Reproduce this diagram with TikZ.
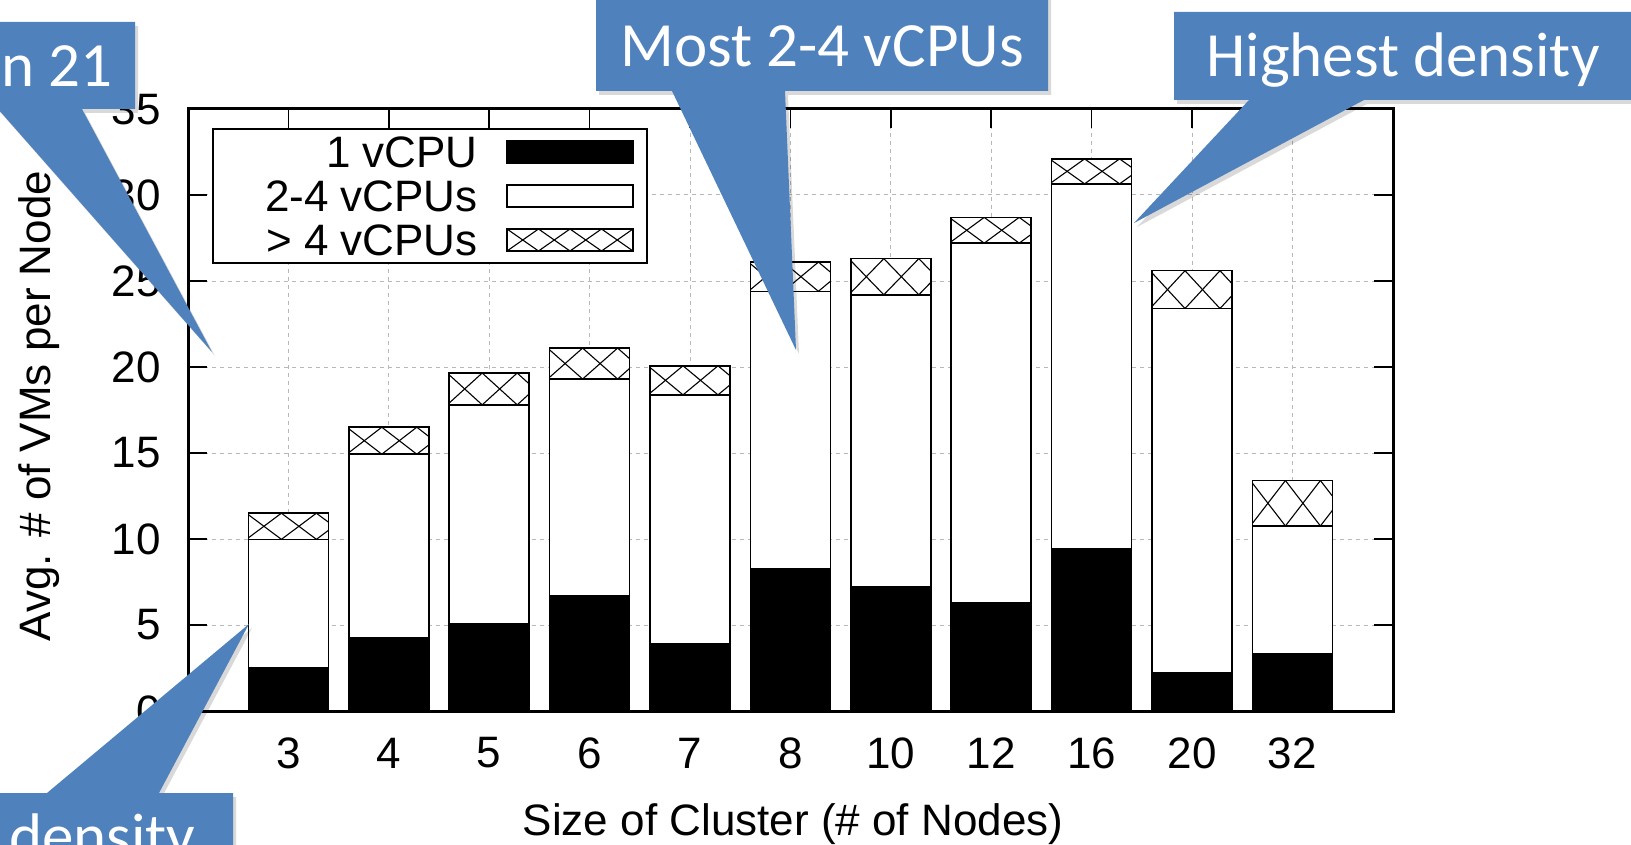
\documentclass[tikz,border=0pt]{standalone}
\usepackage{fontspec}
\setmainfont{Liberation Sans}
\newfontfamily\callfont{Carlito}
\definecolor{callblue}{RGB}{79,129,189}
\begin{document}
\begin{tikzpicture}[x=1pt,y=-1pt,
  lbl/.style={font=\fontsize{44}{50}\selectfont, inner sep=0pt},
  gridline/.style={black!28, line width=1pt, dash pattern=on 4pt off 4pt},
  barbox/.style={draw=black, line width=1.6pt},
  hatchline/.style={black, line width=1.1pt},
  tickline/.style={black, line width=1.6pt},
  calltext/.style={font=\callfont\fontsize{63}{70}\selectfont, text=white, inner sep=0pt},
  callfill/.style={fill=callblue},
  callshadow/.style={fill=black, opacity=0.15},
]
\useasboundingbox (0,0) rectangle (1631,845);
\clip (0,0) rectangle (1631,845);
\fill[white] (0,0) rectangle (1631,845);

% grid
\foreach \v in {5,10,...,30}{
  \draw[gridline] (188,{711-17.2*\v}) -- (1393,{711-17.2*\v});
}
\foreach \i in {0,...,10}{
  \draw[gridline] ({288.4+100.4*\i},109) -- ({288.4+100.4*\i},711);
}

% ticks
\foreach \v in {0,5,...,35}{
  \draw[tickline] (188,{711-17.2*\v}) -- (207,{711-17.2*\v});
  \draw[tickline] (1393,{711-17.2*\v}) -- (1374,{711-17.2*\v});
  \node[lbl, anchor=east] (yt\v) at (161,{711-17.2*\v}) {\v};
}
\foreach \i/\t in {0/3,1/4,2/5,3/6,4/7,5/8,6/10,7/12,8/16,9/20,10/32}{
  \draw[tickline] ({288.4+100.4*\i},109) -- ({288.4+100.4*\i},128);
  \node[lbl] (xt\i) at ({288.4+100.4*\i},753) {\t};
}

% bars
\foreach \i/\a/\b/\c in {0/2.54/9.98/11.5, 1/4.23/14.93/16.5, 2/5.08/17.8/19.65,
   3/6.7/19.3/21.1, 4/3.93/18.38/20.07, 5/8.28/24.4/26.1, 6/7.2/24.2/26.3,
   7/6.29/27.2/28.7, 8/9.43/30.65/32.1, 9/2.24/23.4/25.6, 10/3.33/10.76/13.4}{
  \pgfmathsetmacro\xc{288.4+100.4*\i}
  \pgfmathsetmacro\ya{711-17.2*\a}
  \pgfmathsetmacro\yb{711-17.2*\b}
  \pgfmathsetmacro\yc{711-17.2*\c}
  \pgfmathsetmacro\hh{\yb-\yc}
  \draw[barbox, fill=black] ({\xc-40},711) rectangle ({\xc+40},\ya);
  \draw[barbox, fill=white] ({\xc-40},\ya) rectangle ({\xc+40},\yb);
  \fill[white] ({\xc-40},\yb) rectangle ({\xc+40},\yc);
  \begin{scope}
    \clip ({\xc-40},\yb) rectangle ({\xc+40},\yc);
    \foreach \k in {-1,...,2}{
      \draw[hatchline] ({\xc-42+35*\k},\yc) -- ++(35,\hh);
      \draw[hatchline] ({\xc-42+35*\k},\yb) -- ++(35,-\hh);
    }
  \end{scope}
  \draw[barbox] ({\xc-40},\yb) rectangle ({\xc+40},\yc);
}

% border
\draw[black, line width=3pt] (188,109) rectangle (1393,711);

% legend
\draw[black, line width=2.5pt, fill=white] (213,129) rectangle (647,263);
\node[lbl, anchor=east] (k1) at (478,152) {1 vCPU};
\node[lbl, anchor=east] (k2) at (478,196) {2-4 vCPUs};
\node[lbl, anchor=east] (k3) at (478,240) {> 4 vCPUs};
\draw[barbox, fill=black] (507,141) rectangle (633,163);
\draw[barbox, fill=white] (507,185) rectangle (633,207);
\begin{scope}
  \clip (507,229) rectangle (633,251);
  \foreach \k in {0,...,3}{
    \draw[hatchline] ({507+31.5*\k},229) -- ++(31.5,22);
    \draw[hatchline] ({507+31.5*\k},251) -- ++(31.5,-22);
  }
\end{scope}
\draw[barbox] (507,229) rectangle (633,251);

% axis labels
\node[lbl, anchor=base] (xlab) at (793,835) {Size of Cluster (\# of Nodes)};
\node[lbl, anchor=base, rotate=90] (ylab) at (50,406) {Avg. \# of VMs per Node};

% callouts: shadows
\begin{scope}[shift={(3,4)}]
  \fill[callshadow] (-20,22) -- (135,22) -- (135,109) -- (82,109) -- (212,352) -- (-2,109) -- (-20,109) -- cycle;
  \fill[callshadow] (596,-10) -- (1048,-10) -- (1048,91) -- (785,91) -- (796,350) -- (672,91) -- (596,91) -- cycle;
  \fill[callshadow] (1174,12) -- (1650,12) -- (1650,100) -- (1364,100) -- (1134,223) -- (1249,100) -- (1174,100) -- cycle;
  \fill[callshadow] (-20,793) -- (47,793) -- (249,624) -- (159,793) -- (233,793) -- (233,881) -- (-20,881) -- cycle;
\end{scope}
% callouts
\fill[callfill] (-20,22) -- (135,22) -- (135,109) -- (82,109) -- (212,352) -- (-2,109) -- (-20,109) -- cycle;
\fill[callfill] (596,-10) -- (1048,-10) -- (1048,91) -- (785,91) -- (796,350) -- (672,91) -- (596,91) -- cycle;
\fill[callfill] (1174,12) -- (1650,12) -- (1650,100) -- (1364,100) -- (1134,223) -- (1249,100) -- (1174,100) -- cycle;
\fill[callfill] (-20,793) -- (47,793) -- (249,624) -- (159,793) -- (233,793) -- (233,881) -- (-20,881) -- cycle;

\node[calltext, anchor=base east] (c1) at (113,87) {n 21};
\node[calltext, anchor=base] (c2) at (822,67) {Most 2-4 vCPUs};
\node[calltext, anchor=base] (c3) at (1403,77) {Highest density};
\node[calltext, anchor=base west] (c4) at (9,857) {density};
\end{tikzpicture}
\end{document}
